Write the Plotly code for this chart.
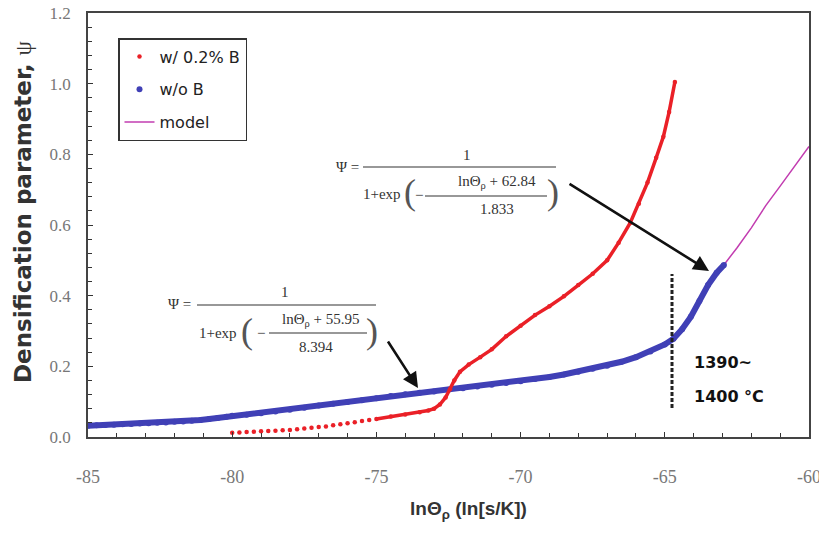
import plotly.graph_objects as go

# ---------------- data ----------------
# w/ 0.2% B  (red)
red_x = [-80.0, -79.75, -79.5, -79.25, -79.0, -78.75, -78.5, -78.25, -78.0, -77.75,
         -77.5, -77.25, -77.0, -76.75, -76.5, -76.25, -76.0, -75.75, -75.5, -75.25,
         -75.0, -74.5, -74.0, -73.5, -73.2, -73.0, -72.8, -72.6, -72.45, -72.3,
         -72.1, -71.8, -71.4, -71.0, -70.5, -70.0, -69.5, -69.0, -68.5, -68.0,
         -67.5, -67.0, -66.6, -66.2, -65.9, -65.6, -65.3, -65.05, -64.85, -64.65]
red_y = [0.012, 0.013, 0.014, 0.015, 0.016, 0.017, 0.018, 0.019, 0.020, 0.022,
         0.024, 0.026, 0.028, 0.030, 0.033, 0.036, 0.039, 0.042, 0.045, 0.048,
         0.051, 0.058, 0.064, 0.070, 0.075, 0.080, 0.092, 0.112, 0.135, 0.160,
         0.185, 0.205, 0.226, 0.248, 0.285, 0.315, 0.345, 0.370, 0.398, 0.430,
         0.462, 0.500, 0.550, 0.606, 0.660, 0.720, 0.790, 0.850, 0.920, 1.005]
red_dense_from = 20   # index where the red dots become a continuous band

# w/o B  (blue)
blue_x = [-85.0, -84.7, -84.4, -84.1, -83.8, -83.5, -83.2, -82.9, -82.6, -82.3,
          -82.0, -81.7, -81.4, -81.1, -80.8, -80.5, -80.2, -80.0, -79.5, -79.0,
          -78.5, -78.0, -77.5, -77.0, -76.5, -76.0, -75.5, -75.0, -74.5, -74.0,
          -73.5, -73.0, -72.5, -72.0, -71.5, -71.0, -70.5, -70.0, -69.5, -69.0,
          -68.5, -68.0, -67.5, -67.0, -66.5, -66.0, -65.5, -65.0, -64.7, -64.4,
          -64.1, -63.8, -63.5, -63.2, -62.95]
blue_y = [0.032, 0.033, 0.034, 0.035, 0.036, 0.037, 0.038, 0.039, 0.040, 0.041,
          0.043, 0.044, 0.046, 0.048, 0.051, 0.054, 0.057, 0.060, 0.063, 0.067,
          0.072, 0.077, 0.083, 0.089, 0.094, 0.099, 0.104, 0.110, 0.116, 0.121,
          0.125, 0.129, 0.134, 0.138, 0.143, 0.148, 0.153, 0.158, 0.164, 0.170,
          0.177, 0.185, 0.193, 0.202, 0.213, 0.226, 0.242, 0.262, 0.278, 0.305,
          0.340, 0.385, 0.430, 0.465, 0.487]

# model (magenta)
model_x = [-85.0, -83.0, -81.0, -79.0, -77.0, -75.0, -73.0, -71.0, -69.0, -67.0,
           -66.0, -65.0, -64.5, -64.0, -63.5, -63.0, -62.5, -62.0, -61.5, -61.0,
           -60.5, -60.0]
model_y = [0.032, 0.039, 0.049, 0.067, 0.089, 0.110, 0.129, 0.148, 0.170, 0.202,
           0.226, 0.262, 0.290, 0.350, 0.430, 0.482, 0.535, 0.592, 0.655, 0.710,
           0.765, 0.822]

x_ticks = [-85, -80, -75, -70, -65, -60]
y_ticks = [0.0, 0.2, 0.4, 0.6, 0.8, 1.0, 1.2]

RED = '#ea2027'
BLUE = '#4040b6'
MAG = '#c23cb0'

# ---------------- helpers for placing text (screen pixels -> axis units) ----------------
L, R, T, B = 88, 809, 13, 437      # plot area edges as seen on screen
OFF = 8                            # page body margin of the browser
def X(px):
    return -85 + (px - L) * 25.0 / (R - L)
def Y(py):
    return (B - py) * 1.2 / (B - T)

fig = go.Figure()

fig.add_trace(go.Scatter(x=model_x, y=model_y, mode='lines', name='model',
                         line=dict(color=MAG, width=1.5), legendgroup='m', legendrank=3))
fig.add_trace(go.Scatter(x=blue_x, y=blue_y, mode='lines', showlegend=False,
                         line=dict(color=BLUE, width=6), hoverinfo='skip'))
fig.add_trace(go.Scatter(x=blue_x, y=blue_y, mode='markers', name='w/o B',
                         marker=dict(color=BLUE, size=6), legendgroup='b', legendrank=2))
fig.add_trace(go.Scatter(x=red_x[red_dense_from:], y=red_y[red_dense_from:], mode='lines',
                         showlegend=False, line=dict(color=RED, width=3.5), hoverinfo='skip'))
fig.add_trace(go.Scatter(x=red_x, y=red_y, mode='markers', name='w/ 0.2% B',
                         marker=dict(color=RED, size=4.5), legendgroup='r', legendrank=1))

SERIF = 'Liberation Serif'
EQC = '#333333'
ann = []
shapes = []

def txt(px, py, s, size=15, anchor='center', family=SERIF, color=EQC):
    ann.append(dict(x=X(px), y=Y(py), xref='x', yref='y', text=s, showarrow=False,
                    xanchor=anchor, yanchor='middle',
                    font=dict(family=family, size=size, color=color)))

def hline(px0, px1, py, w=1.2):
    shapes.append(dict(type='line', xref='x', yref='y', x0=X(px0), x1=X(px1),
                       y0=Y(py), y1=Y(py), line=dict(color=EQC, width=w)))

PAREN = 36
PC = '#555555'
# upper equation
txt(361, 167, 'Ψ =', 15, 'right')
hline(363, 556, 167)
txt(467, 155, '1', 15)
txt(403, 194, '1+exp', 15, 'right')
txt(410, 192, '(', PAREN, color=PC)
txt(419, 195, '−', 15)
hline(425, 547, 196)
txt(497, 182, 'lnΘ<sub>ρ</sub> + 62.84', 15)
txt(497, 209, '1.833', 15)
txt(553, 192, ')', PAREN, color=PC)

# lower equation
txt(193, 304, 'Ψ =', 15, 'right')
hline(197, 376, 305)
txt(285, 292, '1', 15)
txt(239, 333, '1+exp', 15, 'right')
txt(247, 331, '(', PAREN, color=PC)
txt(261, 333, '−', 15)
hline(269, 367, 333)
txt(320, 320, 'lnΘ<sub>ρ</sub> + 55.95', 15)
txt(316, 347, '8.394', 15)
txt(372, 331, ')', PAREN, color=PC)

# arrows
for (tx, ty, hx, hy) in [(568, 183, 709, 271), (387, 340, 418, 388)]:
    ann.append(dict(x=X(hx), y=Y(hy), ax=X(tx), ay=Y(ty), xref='x', yref='y',
                    axref='x', ayref='y', text='', showarrow=True, arrowhead=2,
                    arrowsize=1.2, arrowwidth=2.6, arrowcolor='#111', standoff=0))

# temperature label
txt(692, 362, '<b>1390~</b>', 16, 'left', 'DejaVu Sans', '#111')
txt(692, 396, '<b>1400 °C</b>', 16, 'left', 'DejaVu Sans', '#111')

# dashed marker line at the transition
shapes.append(dict(type='line', xref='x', yref='y', x0=X(672), x1=X(672),
                   y0=Y(408), y1=Y(274), line=dict(color='#222', width=3, dash='4px,2px')))

# axis titles
ann.append(dict(x=(23 - L) / (R - L), y=(B - 212) / (B - T), xref='paper', yref='paper',
                text='<b>Densification parameter, </b><span style="font-family:Liberation Serif">ψ</span>',
                showarrow=False, textangle=-90, xanchor='center', yanchor='middle',
                font=dict(family='DejaVu Sans', size=23, color='#333')))
ann.append(dict(x=(468 - L) / (R - L), y=(B - 510) / (B - T), xref='paper', yref='paper',
                text='<b>lnΘ<sub>ρ</sub> (ln[s/K])</b>', showarrow=False,
                xanchor='center', yanchor='middle',
                font=dict(family='Liberation Sans', size=19, color='#333')))

axis_common = dict(showgrid=False, zeroline=False, showline=True, linecolor='#444',
                   linewidth=1.5, mirror=True, ticks='inside', ticklen=5, tickwidth=1.2,
                   tickcolor='#333', automargin=False, ticklabeloverflow='allow')

fig.update_layout(
    width=827, height=536,
    font=dict(family='Liberation Serif, serif'),
    margin=dict(l=L - OFF, r=827 - (R - OFF), t=T - OFF, b=536 - (B - OFF), pad=0,
                autoexpand=False),
    paper_bgcolor='white', plot_bgcolor='white',
    xaxis=dict(range=[-85, -60], tickvals=x_ticks, ticktext=[str(v) for v in x_ticks],
               minor=dict(dtick=1, ticks='inside', ticklen=4, tickcolor='#333'),
               ticklabelstandoff=23,
               tickfont=dict(family='Liberation Serif, serif', size=18, color='#777'),
               **axis_common),
    yaxis=dict(range=[0, 1.2], tickvals=y_ticks, ticktext=['%.1f' % v for v in y_ticks],
               minor=dict(dtick=0.04, ticks='inside', ticklen=4, tickcolor='#333'),
               ticklabelstandoff=12,
               tickfont=dict(family='Liberation Serif, serif', size=17, color='#777'),
               **axis_common),
    legend=dict(x=(118 - L) / (R - L), y=(B - 38) / (B - T), xanchor='left', yanchor='top',
                bordercolor='#333', borderwidth=1.5, bgcolor='white',
                font=dict(family='DejaVu Sans', size=16, color='#222'),
                tracegroupgap=9, itemsizing='trace'),
    annotations=ann, shapes=shapes,
)

fig.write_html('out.html')
